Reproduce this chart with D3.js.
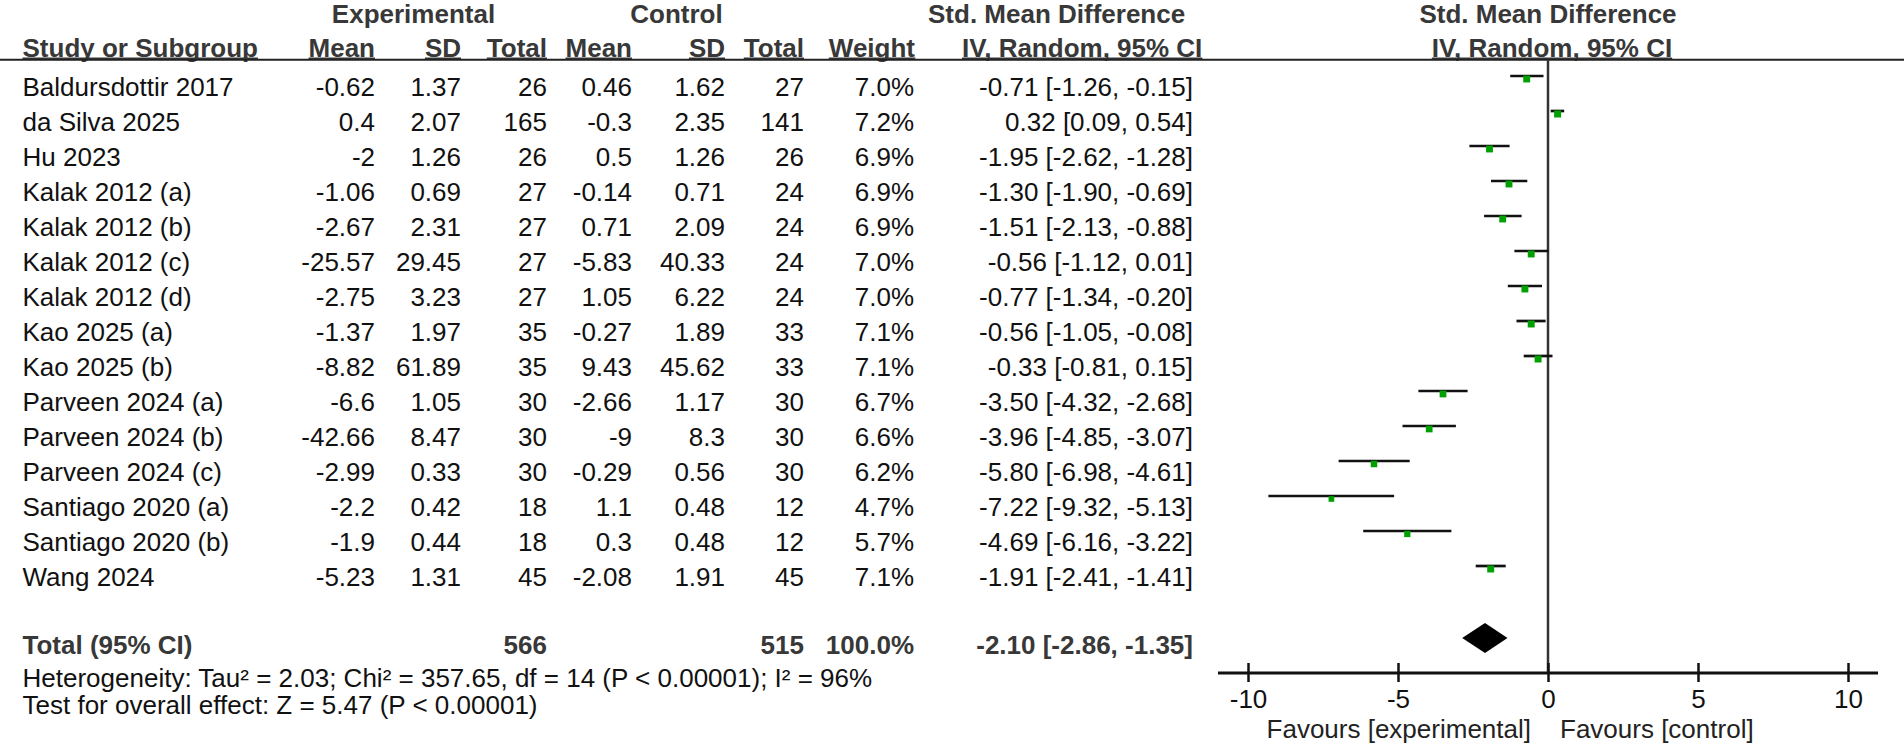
<!DOCTYPE html>
<html>
<head>
<meta charset="utf-8">
<script src="https://cdn.jsdelivr.net/npm/d3@7"></script>
<style>
  html, body { margin: 0; padding: 0; background: #fff; }
  svg { display: block; }
  text { font-family: "Liberation Sans", Arial, Helvetica, sans-serif; font-size: 26px; }
</style>
</head>
<body>
<svg id="chart" width="1904" height="746"></svg>
<script>
// ---------------- data ----------------
const studies = ["Baldursdottir 2017", "da Silva 2025", "Hu 2023", "Kalak 2012 (a)", "Kalak 2012 (b)",
  "Kalak 2012 (c)", "Kalak 2012 (d)", "Kao 2025 (a)", "Kao 2025 (b)", "Parveen 2024 (a)",
  "Parveen 2024 (b)", "Parveen 2024 (c)", "Santiago 2020 (a)", "Santiago 2020 (b)", "Wang 2024"];
const expMean  = [-0.62, 0.4, -2, -1.06, -2.67, -25.57, -2.75, -1.37, -8.82, -6.6, -42.66, -2.99, -2.2, -1.9, -5.23];
const expSD    = [1.37, 2.07, 1.26, 0.69, 2.31, 29.45, 3.23, 1.97, 61.89, 1.05, 8.47, 0.33, 0.42, 0.44, 1.31];
const expTotal = [26, 165, 26, 27, 27, 27, 27, 35, 35, 30, 30, 30, 18, 18, 45];
const ctlMean  = [0.46, -0.3, 0.5, -0.14, 0.71, -5.83, 1.05, -0.27, 9.43, -2.66, -9, -0.29, 1.1, 0.3, -2.08];
const ctlSD    = [1.62, 2.35, 1.26, 0.71, 2.09, 40.33, 6.22, 1.89, 45.62, 1.17, 8.3, 0.56, 0.48, 0.48, 1.91];
const ctlTotal = [27, 141, 26, 24, 24, 24, 24, 33, 33, 30, 30, 30, 12, 12, 45];
const weights  = [7.0, 7.2, 6.9, 6.9, 6.9, 7.0, 7.0, 7.1, 7.1, 6.7, 6.6, 6.2, 4.7, 5.7, 7.1];
const smd      = [-0.71, 0.32, -1.95, -1.30, -1.51, -0.56, -0.77, -0.56, -0.33, -3.50, -3.96, -5.80, -7.22, -4.69, -1.91];
const ciLow    = [-1.26, 0.09, -2.62, -1.90, -2.13, -1.12, -1.34, -1.05, -0.81, -4.32, -4.85, -6.98, -9.32, -6.16, -2.41];
const ciHigh   = [-0.15, 0.54, -1.28, -0.69, -0.88, 0.01, -0.20, -0.08, 0.15, -2.68, -3.07, -4.61, -5.13, -3.22, -1.41];

const totalLabel = "Total (95% CI)";
const totalExpN = 566, totalCtlN = 515, totalWeight = 100.0;
const totalSmd = -2.10, totalLow = -2.86, totalHigh = -1.35;

const heterogeneityText = "Heterogeneity: Tau² = 2.03; Chi² = 357.65, df = 14 (P < 0.00001); I² = 96%";
const overallText = "Test for overall effect: Z = 5.47 (P < 0.00001)";

const groupHeaders = ["Experimental", "Control", "Std. Mean Difference"];
const colHeaders = ["Mean", "SD", "Total", "Mean", "SD", "Total", "Weight"];
const plotHeaders = ["Std. Mean Difference", "IV, Random, 95% CI"];
const xTicks = [-10, -5, 0, 5, 10];
const favourLabels = ["Favours [experimental]", "Favours [control]"];

// ---------------- layout ----------------
const svg = d3.select("#chart");
svg.append("rect").attr("width", 1904).attr("height", 746).attr("fill", "#fff");

const REG = "#111";
const BOLD = "#383838";

const x = d3.scaleLinear().domain([-10, 10]).range([1248, 1848]);
const rowY = d3.scaleLinear().domain([0, 1]).range([76, 111]);   // CI line y per row index
const sq = d3.scaleSqrt().domain([0, 7.2]).range([0, 7]);

const colRight = [375, 461, 547, 632, 725, 804, 914];
const ciRight = 1193;
const nameLeft = 22.5;
const baseOff = 19.5; // text baseline below the CI line

const fmtW = d => d.toFixed(1) + "%";
const fmtCI = (m, l, h) => `${m.toFixed(2)} [${l.toFixed(2)}, ${h.toFixed(2)}]`;

// header row 1
const h1 = svg.append("g").attr("font-weight", "bold").attr("fill", BOLD);
h1.append("text").attr("x", 413.5).attr("y", 23).attr("text-anchor", "middle").text(groupHeaders[0]);
h1.append("text").attr("x", 676.5).attr("y", 23).attr("text-anchor", "middle").text(groupHeaders[1]);
h1.append("text").attr("x", 928).attr("y", 23).attr("text-anchor", "start").text(groupHeaders[2]);
h1.append("text").attr("x", 1548).attr("y", 23).attr("text-anchor", "middle").text(plotHeaders[0]);

// header row 2 (underlined)
const h2 = svg.append("g").attr("font-weight", "bold").attr("fill", BOLD);
const h2items = [{t: "Study or Subgroup", x: nameLeft, a: "start"}]
  .concat(colHeaders.map((t, i) => ({t, x: colRight[i] + (i === 6 ? 1 : 0), a: "end"})))
  .concat([{t: plotHeaders[1], x: 962, a: "start"}, {t: plotHeaders[1], x: 1552, a: "middle"}]);
h2items.forEach(d => {
  const t = h2.append("text").attr("x", d.x).attr("y", 56.5).attr("text-anchor", d.a).text(d.t);
  const bb = t.node().getBBox();
  h2.append("line").attr("x1", bb.x).attr("x2", bb.x + bb.width)
    .attr("y1", 58.3).attr("y2", 58.3).attr("stroke", BOLD).attr("stroke-width", 1.8);
});

// full-width header line
svg.append("line").attr("x1", 0).attr("x2", 1904).attr("y1", 59.8).attr("y2", 59.8)
  .attr("stroke", "#222").attr("stroke-width", 2);

// zero line
svg.append("line").attr("x1", x(0)).attr("x2", x(0)).attr("y1", 59.8).attr("y2", 673)
  .attr("stroke", "#333").attr("stroke-width", 2.5);

// study rows
const rows = svg.append("g").attr("fill", REG);
studies.forEach((s, i) => {
  const by = rowY(i) + baseOff;
  rows.append("text").attr("x", nameLeft).attr("y", by).text(s);
  const vals = [String(expMean[i]), String(expSD[i]), String(expTotal[i]),
                String(ctlMean[i]), String(ctlSD[i]), String(ctlTotal[i]), fmtW(weights[i])];
  vals.forEach((v, j) => rows.append("text").attr("x", colRight[j]).attr("y", by)
    .attr("text-anchor", "end").text(v));
  rows.append("text").attr("x", ciRight).attr("y", by).attr("text-anchor", "end")
    .text(fmtCI(smd[i], ciLow[i], ciHigh[i]));
});

// CI lines and squares
const marks = svg.append("g");
studies.forEach((s, i) => {
  const yy = rowY(i);
  marks.append("line").attr("x1", x(ciLow[i])).attr("x2", x(ciHigh[i]))
    .attr("y1", yy).attr("y2", yy).attr("stroke", "#111").attr("stroke-width", 2.7);
  const size = sq(weights[i]);
  marks.append("rect").attr("x", x(smd[i]) - size / 2).attr("y", yy + 3 - size / 2)
    .attr("width", size).attr("height", size).attr("fill", "#00a000");
});

// total row
const tIdx = 16;
const tBase = rowY(tIdx) + 17.5;
const tg = svg.append("g").attr("font-weight", "bold").attr("fill", BOLD);
tg.append("text").attr("x", nameLeft).attr("y", tBase).text(totalLabel);
tg.append("text").attr("x", colRight[2]).attr("y", tBase).attr("text-anchor", "end").text(totalExpN);
tg.append("text").attr("x", colRight[5]).attr("y", tBase).attr("text-anchor", "end").text(totalCtlN);
tg.append("text").attr("x", colRight[6]).attr("y", tBase).attr("text-anchor", "end").text(fmtW(totalWeight));
tg.append("text").attr("x", ciRight).attr("y", tBase).attr("text-anchor", "end")
  .text(fmtCI(totalSmd, totalLow, totalHigh));

const dy = rowY(tIdx) + 2;
svg.append("polygon")
  .attr("points", [[x(totalLow), dy], [x(totalSmd), dy - 15], [x(totalHigh), dy], [x(totalSmd), dy + 15]]
    .map(p => p.join(",")).join(" "))
  .attr("fill", "#000");

// footnotes
svg.append("text").attr("x", nameLeft).attr("y", 687).attr("fill", REG).text(heterogeneityText);
svg.append("text").attr("x", nameLeft).attr("y", 714).attr("fill", REG).text(overallText);

// x axis
const axisY = 673;
const ag = svg.append("g").attr("transform", `translate(0,${axisY})`)
  .call(d3.axisBottom(x).tickValues(xTicks).tickSize(0).tickFormat(d => String(d)));
ag.select(".domain").remove();
ag.append("line").attr("x1", x(-11)).attr("x2", x(11)).attr("y1", 0).attr("y2", 0)
  .attr("stroke", "#111").attr("stroke-width", 3);
ag.selectAll(".tick line").attr("y1", -10).attr("y2", 9).attr("stroke", "#111").attr("stroke-width", 2.5);
ag.selectAll(".tick text").attr("y", 35).attr("dy", null)
  .attr("font-size", 26).attr("font-family", "'Liberation Sans', Arial, sans-serif").attr("fill", REG);

svg.append("text").attr("x", 1531).attr("y", 738).attr("text-anchor", "end").attr("fill", "#222").text(favourLabels[0]);
svg.append("text").attr("x", 1560).attr("y", 738).attr("text-anchor", "start").attr("fill", "#222").text(favourLabels[1]);
</script>
</body>
</html>
